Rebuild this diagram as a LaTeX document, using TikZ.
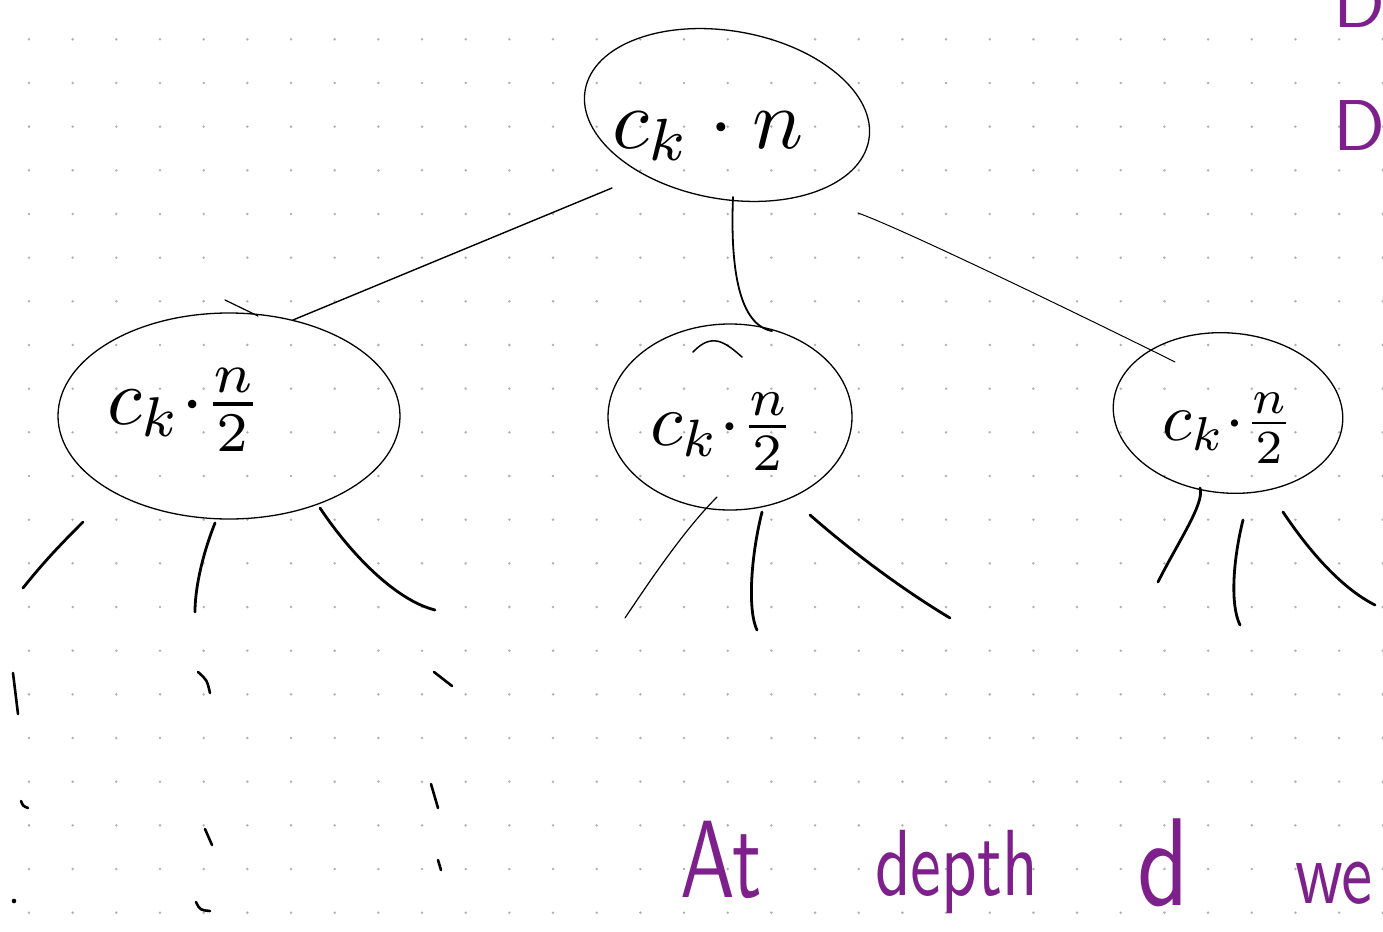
\documentclass[tikz,border=0pt]{standalone}
\usepackage{graphicx}
\usetikzlibrary{shapes.geometric}
\definecolor{penpurple}{RGB}{126,32,139}
\definecolor{dotgray}{RGB}{178,178,178}
\begin{document}
\begin{tikzpicture}[x=1pt,y=-1pt,
  bubble/.style={draw, ellipse, line width=1.3pt, inner sep=0pt},
  edge/.style={line width=1.2pt, line cap=round},
  stub/.style={line width=2.8pt, line cap=round},
  tick/.style={line width=2.6pt, line cap=round},
  mathlbl/.style={inner sep=0pt, anchor=base west},
  note/.style={text=penpurple, inner sep=0pt, anchor=base west, font=\sffamily}]
\clip (0,0) rectangle (1383,931);
\fill[white] (0,0) rectangle (1383,931);
\foreach \i in {0,...,31}{\foreach \j in {0,...,20}{\fill[dotgray] ({29+43.67*\i},{39.3+43.67*\j}) circle[radius=1.4pt];}}

% tree nodes
\node[bubble, minimum width=288pt, minimum height=168pt, rotate=-10] (root) at (727,115) {};
\node[bubble, minimum width=342pt, minimum height=206pt] (L) at (229,416) {};
\node[bubble, minimum width=244pt, minimum height=186pt] (M) at (730,417) {};
\node[bubble, minimum width=230pt, minimum height=160pt, rotate=-5] (R) at (1228,413) {};

% labels
\node[mathlbl] (rootlbl) at (612,148) {\scalebox{8.5}{$c_k\cdot n$}};
\node[mathlbl] (Llbl) at (107,424) {\scalebox{8}{$c_k{\cdot}\frac{n}{2}$}};
\node[mathlbl] (Mlbl) at (650,445) {\scalebox{7.5}{$c_k{\cdot}\frac{n}{2}$}};
\node[mathlbl] (Rlbl) at (1162,440) {\scalebox{6.8}{$c_k{\cdot}\frac{n}{2}$}};

% connectors root -> children
\draw[edge, line width=1.4pt] ([shift={(-115,73)}]root.center) -- ([shift={(64,-96)}]L.center);
\draw[edge, line width=1.8pt] ([shift={(6,82)}]root.center) .. controls +(-3,75) and +(-32,-6) .. ([shift={(42,-86)}]M.center);
\draw[edge, line width=1.0pt] ([shift={(131,98)}]root.center) .. controls +(50,18) and +(-60,-30) .. ([shift={(-53,-51)}]R.center);

% free ends of the stubs
\coordinate (la) at (23,588);
\coordinate (lb) at (195,612);
\coordinate (lc) at (435,610);
\coordinate (ma) at (625,618);
\coordinate (mb) at (757,630);
\coordinate (mc) at (950,618);
\coordinate (ra) at (1158,582);
\coordinate (rb) at (1240,625);
\coordinate (rc) at (1375,605);

\draw[stub] ([shift={(-146,106)}]L.center) .. controls +(-25,25) and +(20,-25) .. (la);
\draw[stub] ([shift={(-14,107)}]L.center) .. controls +(-12,30) and +(0,-25) .. (lb);
\draw[stub] ([shift={(91,92)}]L.center) .. controls +(30,45) and +(-40,-10) .. (lc);
\draw[edge] ([shift={(-13,80)}]M.center) .. controls +(-30,30) and +(30,-45) .. (ma);
\draw[stub] ([shift={(32,95)}]M.center) .. controls +(-12,48) and +(-9,-18) .. (mb);
\draw[stub] ([shift={(80,98)}]M.center) .. controls +(40,35) and +(-50,-30) .. (mc);
\draw[stub] ([shift={(-28,75)}]R.center) .. controls +(5,15) and +(20,-40) .. (ra);
\draw[stub] ([shift={(15,107)}]R.center) .. controls +(-10,40) and +(-10,-20) .. (rb);
\draw[stub] ([shift={(55,99)}]R.center) .. controls +(30,45) and +(-30,-15) .. (rc);

% extra pen strokes
\draw[edge] (225,300) -- (258,316);
\draw[edge, line width=1.5pt] (693,352) .. controls (712,332) and (725,342) .. (742,357);

% continuation marks
\draw[tick] (13,673) -- (18,714);
\draw[tick] (198,672) .. controls (207,680) .. (210,693);
\draw[tick] (434,672) -- (452,686);
\draw[tick] (21,801) .. controls (23,806) .. (28,808);
\draw[tick] (205,829) -- (212,845);
\draw[tick] (431,784) -- (438,808);
\fill (14,901) circle[radius=2.3pt];
\draw[tick] (196,902) .. controls (200,910) .. (210,911);
\draw[tick] (438,860) -- (441,870);

% purple notes
\node[note] (w1) at (680,897) {\scalebox{8.2}[11]{At}};
\node[note] (w2) at (875,895) {\scalebox{6.9}[9.4]{depth}};
\node[note] (w3) at (1137,905) {\scalebox{10}[12.5]{d}};
\node[note] (w4) at (1295,903) {\scalebox{7}[9]{we}};
\node[note] (t1) at (1333,28) {\scalebox{7.2}{Dr}};
\node[note] (t2) at (1333,150) {\scalebox{7.2}{De}};
\end{tikzpicture}
\end{document}
